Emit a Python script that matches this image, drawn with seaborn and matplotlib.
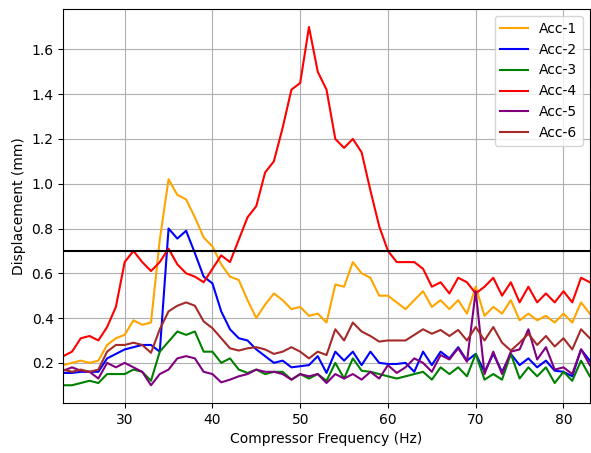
import matplotlib
matplotlib.use("Agg")
import matplotlib.pyplot as plt
import seaborn as sns
import pandas as pd
import numpy as np

# Compressor frequency (Hz)
freq = list(range(23, 84))

acc1 = [0.19, 0.20, 0.21, 0.20, 0.21, 0.28, 0.31, 0.325, 0.39, 0.37,
        0.38, 0.75, 1.02, 0.95, 0.93, 0.85, 0.76, 0.72, 0.64, 0.585,
        0.57, 0.48, 0.40, 0.46, 0.51, 0.48, 0.44, 0.45, 0.41, 0.42,
        0.38, 0.55, 0.54, 0.65, 0.60, 0.58, 0.50, 0.50, 0.47, 0.44,
        0.48, 0.52, 0.45, 0.48, 0.44, 0.48, 0.42, 0.54, 0.41, 0.45,
        0.42, 0.48, 0.39, 0.42, 0.39, 0.41, 0.38, 0.42, 0.38, 0.47, 0.42]
acc2 = [0.155, 0.155, 0.16, 0.16, 0.16, 0.22, 0.24, 0.26, 0.27, 0.28,
        0.28, 0.25, 0.80, 0.755, 0.79, 0.69, 0.585, 0.555, 0.43, 0.35,
        0.31, 0.30, 0.26, 0.23, 0.20, 0.21, 0.18, 0.185, 0.19, 0.23,
        0.155, 0.25, 0.21, 0.25, 0.19, 0.25, 0.20, 0.195, 0.195, 0.20,
        0.16, 0.25, 0.19, 0.25, 0.22, 0.27, 0.21, 0.24, 0.16, 0.24,
        0.16, 0.24, 0.19, 0.22, 0.18, 0.21, 0.165, 0.16, 0.14, 0.26, 0.21]
acc3 = [0.10, 0.10, 0.11, 0.12, 0.11, 0.15, 0.15, 0.15, 0.17, 0.16,
        0.12, 0.25, 0.295, 0.34, 0.325, 0.34, 0.25, 0.25, 0.20, 0.22,
        0.17, 0.155, 0.17, 0.15, 0.16, 0.16, 0.125, 0.15, 0.13, 0.15,
        0.12, 0.20, 0.13, 0.22, 0.165, 0.16, 0.15, 0.14, 0.13, 0.14,
        0.15, 0.16, 0.125, 0.18, 0.15, 0.18, 0.14, 0.24, 0.125, 0.15,
        0.125, 0.24, 0.13, 0.18, 0.14, 0.18, 0.11, 0.16, 0.12, 0.21, 0.14]
acc4 = [0.23, 0.25, 0.31, 0.32, 0.30, 0.36, 0.45, 0.65, 0.70, 0.65,
        0.61, 0.65, 0.71, 0.64, 0.60, 0.585, 0.56, 0.62, 0.68, 0.65,
        0.75, 0.85, 0.90, 1.05, 1.10, 1.25, 1.42, 1.45, 1.70, 1.50,
        1.42, 1.20, 1.16, 1.20, 1.14, 0.97, 0.81, 0.70, 0.65, 0.65,
        0.65, 0.62, 0.54, 0.56, 0.51, 0.58, 0.56, 0.51, 0.54, 0.58,
        0.50, 0.56, 0.47, 0.54, 0.47, 0.51, 0.47, 0.52, 0.47, 0.58, 0.56]
acc5 = [0.165, 0.18, 0.165, 0.16, 0.13, 0.20, 0.18, 0.20, 0.18, 0.16,
        0.10, 0.15, 0.17, 0.22, 0.23, 0.22, 0.16, 0.15, 0.113, 0.125,
        0.14, 0.15, 0.17, 0.16, 0.16, 0.15, 0.125, 0.15, 0.14, 0.15,
        0.11, 0.15, 0.13, 0.15, 0.125, 0.16, 0.13, 0.19, 0.155, 0.18,
        0.22, 0.20, 0.16, 0.235, 0.215, 0.265, 0.205, 0.52, 0.15, 0.25,
        0.15, 0.25, 0.26, 0.35, 0.215, 0.27, 0.17, 0.18, 0.15, 0.26, 0.19]
acc6 = [0.17, 0.16, 0.17, 0.16, 0.17, 0.25, 0.28, 0.28, 0.29, 0.28,
        0.245, 0.35, 0.43, 0.455, 0.47, 0.455, 0.385, 0.355, 0.31, 0.265,
        0.255, 0.265, 0.27, 0.26, 0.24, 0.25, 0.27, 0.25, 0.22, 0.25,
        0.235, 0.35, 0.30, 0.38, 0.34, 0.32, 0.295, 0.30, 0.30, 0.30,
        0.325, 0.35, 0.33, 0.347, 0.32, 0.347, 0.30, 0.36, 0.30, 0.36,
        0.29, 0.255, 0.29, 0.33, 0.28, 0.32, 0.273, 0.31, 0.26, 0.35, 0.31]

series_names = ["Acc-1", "Acc-2", "Acc-3", "Acc-4", "Acc-5", "Acc-6"]
series_values = [acc1, acc2, acc3, acc4, acc5, acc6]
series_colors = ["orange", "blue", "green", "red", "purple", "brown"]
threshold = 0.7

df = pd.concat(
    [pd.DataFrame({"Frequency": freq, "Displacement": vals, "Sensor": name})
     for name, vals in zip(series_names, series_values)],
    ignore_index=True,
)

fig, ax = plt.subplots(figsize=(5.91, 4.53), dpi=100)
sns.lineplot(data=df, x="Frequency", y="Displacement", hue="Sensor",
             palette=dict(zip(series_names, series_colors)),
             linewidth=1.5, ax=ax)
ax.axhline(threshold, color="black", linewidth=1.5)

ax.set_xlim(min(freq), max(freq))
ax.set_xlabel("Compressor Frequency (Hz)")
ax.set_ylabel("Displacement (mm)")
ax.grid(True)
ax.legend(loc="upper right", title=None)

plt.subplots_adjust(left=0.107, right=0.998, top=0.980, bottom=0.110)
plt.savefig("out.png", dpi=100)
plt.close()
